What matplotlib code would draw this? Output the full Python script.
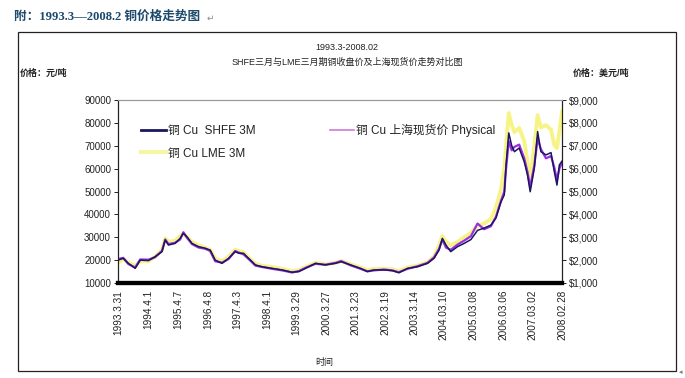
import matplotlib
matplotlib.use("Agg")
import matplotlib.pyplot as plt
from matplotlib.patches import Rectangle
from matplotlib.ticker import FuncFormatter, FixedLocator

plt.rcParams['font.family'] = ['Liberation Sans', 'Noto Sans CJK SC', 'DejaVu Sans']

# ---- data (decimal years) ----
dates = [1993.25, 1993.42, 1993.59, 1993.82, 1993.99,
         1994.27, 1994.49, 1994.72, 1994.83, 1994.94,
         1995.16, 1995.33, 1995.44, 1995.56, 1995.73, 1995.95,
         1996.17, 1996.34, 1996.51, 1996.74, 1996.96,
         1997.18, 1997.30, 1997.46, 1997.63, 1997.86,
         1998.08, 1998.42, 1998.76,
         1999.09, 1999.32, 1999.54, 1999.88,
         2000.21, 2000.55, 2000.74,
         2001.06, 2001.39, 2001.62, 2001.84,
         2002.18, 2002.46, 2002.68, 2002.97,
         2003.30, 2003.64, 2003.86,
         2004.03, 2004.14, 2004.26, 2004.42, 2004.65, 2004.87,
         2005.10, 2005.32, 2005.54, 2005.77, 2005.94,
         2006.11, 2006.22, 2006.28, 2006.37, 2006.47, 2006.56, 2006.72, 2006.89,
         2007.00, 2007.09, 2007.23, 2007.34, 2007.45, 2007.62, 2007.79, 2007.90, 2007.99,
         2008.07, 2008.16]

shfe_3m = [20000, 20800, 18600, 16400, 20000,
           19800, 21500, 23700, 28800, 26600,
           27300, 29500, 31700, 30200, 27300, 25900,
           25200, 24400, 20000, 18600, 20800,
           23700, 23000, 23000, 20800, 17900,
           17100, 16400, 15700,
           14700, 15000, 16400, 18600,
           17900, 18600, 19300,
           17900, 16400, 15000, 15700,
           15700, 15400, 14500, 16400,
           17100, 18600, 20800,
           24400, 29500, 26600, 23700, 25900, 27300,
           29000, 33000, 34000, 35300, 38400,
           45500, 48500, 61600, 75600, 70000, 67400, 69000, 63000,
           57200, 49900, 60300, 76200, 67400, 66000, 67000, 58700, 52800,
           61600, 63300]

physical = [20500, 21000, 18300, 16800, 20300,
            20200, 21300, 24000, 29000, 27000,
            27600, 29000, 32200, 29800, 27000, 25500,
            25000, 24000, 19500, 18900, 20500,
            24000, 23300, 22500, 20500, 17600,
            17000, 16200, 15500,
            14600, 15200, 16600, 18400,
            18000, 18800, 19600,
            17700, 16200, 15100, 15500,
            15900, 15500, 14700, 16200,
            17300, 18800, 21200,
            25000, 29000, 25500, 24500, 26800, 28500,
            30500, 36000, 33500, 34800, 39000,
            46000, 50000, 60000, 72000, 68000, 69500, 70500, 64500,
            58500, 52000, 61500, 73000, 68500, 64500, 65500, 60500, 55000,
            60000, 62500]

lme_3m_usd = [1880, 2050, 1900, 1750, 1950,
              1950, 2150, 2450, 2950, 2800,
              2850, 3050, 3150, 3000, 2800, 2650,
              2550, 2450, 2050, 1950, 2150,
              2450, 2400, 2350, 2100, 1850,
              1750, 1700, 1620,
              1520, 1560, 1700, 1880,
              1820, 1880, 1960,
              1820, 1680, 1560, 1620,
              1620, 1600, 1520, 1680,
              1760, 1900, 2150,
              2650, 3050, 2800, 2650, 2800, 3000,
              3200, 3500, 3600, 3800, 4300,
              5100, 6000, 7000, 8430, 7900, 7600, 7780, 7200,
              6300, 5600, 7000, 8340, 7800, 7900, 7700, 7030, 6900,
              7600, 8500]

tick_labels = ['1993.3.31', '1994.4.1', '1995.4.7', '1996.4.8', '1997.4.3', '1998.4.1',
               '1999.3.29', '2000.3.27', '2001.3.23', '2002.3.19', '2003.3.14',
               '2004.03.10', '2005.03.08', '2006.03.06', '2007.03.02', '2008.02.28']

series_names = ['铜 Cu  SHFE 3M', '铜 Cu 上海现货价 Physical', '铜 Cu LME 3M']


def label_to_year(s):
    y, m, d = [int(p) for p in s.split('.')]
    cum = [0, 31, 59, 90, 120, 151, 181, 212, 243, 273, 304, 334]
    return y + (cum[m - 1] + d - 1) / 365.25


tick_pos = [label_to_year(s) for s in tick_labels]

# ---- figure ----
W, H = 685, 378
fig = plt.figure(figsize=(W / 100, H / 100), dpi=100)
fig.patch.set_facecolor('white')


def fx(px):
    return px / W


def fy(py):
    return 1 - py / H


# page heading
fig.text(fx(14), fy(17), '附：1993.3—2008.2 铜价格走势图', color='#1d4a6b',
         fontsize=9.1, fontweight='bold', va='center', ha='left',
         family=['Liberation Serif', 'Noto Sans CJK SC', 'DejaVu Sans'])
fig.text(fx(207), fy(18), '↵', color='#888888', fontsize=6.5, va='center',
         ha='left', family=['DejaVu Sans'])

# chart frame
fig.patches.append(Rectangle((fx(18), fy(371)), (676 - 18) / W, (371 - 32) / H,
                             transform=fig.transFigure, fill=False,
                             edgecolor='#222222', lw=0.9))

fig.text(fx(347), fy(47), '1993.3-2008.02', fontsize=6.5, ha='center', va='center',
         color='#222222')
fig.text(fx(347), fy(62), 'SHFE三月与LME三月期铜收盘价及上海现货价走势对比图',
         fontsize=6.5, ha='center', va='center', color='#222222')
fig.text(fx(20), fy(73), '价格：元/吨', fontsize=6.5, ha='left', va='center',
         color='#222222', fontweight='bold')
fig.text(fx(573), fy(73), '价格：美元/吨', fontsize=6.5, ha='left', va='center',
         color='#222222', fontweight='bold')
fig.text(fx(324), fy(362), '时间', fontsize=6.5, ha='center', va='center',
         color='#222222')

# axes
L, R, T, B = 118, 562, 100, 283
ax = fig.add_axes([fx(L), fy(B), (R - L) / W, (B - T) / H])
ax2 = ax.twinx()
ax2.set_zorder(ax.get_zorder() - 1)
ax.patch.set_visible(False)
ax2.patch.set_facecolor('white')

l_lme, = ax2.plot(dates, lme_3m_usd, color='#f6f37a', lw=2.8, alpha=0.9,
                  solid_joinstyle='round')
l_phys, = ax.plot(dates, physical, color='#9a2ee0', lw=1.6, solid_joinstyle='round')
l_shfe, = ax.plot(dates, shfe_3m, color='#1a1660', lw=1.1, solid_joinstyle='round')

ax.set_xlim(tick_pos[0], tick_pos[-1])
ax.set_ylim(10000, 90000)
ax2.set_ylim(1000, 9000)

ax.set_yticks(range(10000, 90001, 10000))
ax.set_yticklabels([str(v) for v in range(10000, 90001, 10000)])
ax2.set_yticks(range(1000, 9001, 1000))
ax2.yaxis.set_major_formatter(FuncFormatter(lambda v, p: f'${v:,.0f}'))

ax.xaxis.set_major_locator(FixedLocator(tick_pos))
ax.set_xticklabels(tick_labels, rotation=90, fontsize=7.2, color='#222222')
ax.tick_params(axis='x', length=0, pad=5)
ax.tick_params(axis='y', direction='out', length=3, width=0.7, labelsize=7,
               colors='#222222', pad=2)
ax2.tick_params(axis='y', direction='out', length=3, width=0.7, labelsize=7,
                colors='#222222', pad=2)

for a in (ax, ax2):
    a.spines['bottom'].set_linewidth(3.0)
    a.spines['bottom'].set_color('black')
    a.spines['top'].set_color('#999999')
    a.spines['top'].set_linewidth(0.8)
    a.spines['left'].set_color('#222222')
    a.spines['left'].set_linewidth(0.8)
    a.spines['right'].set_color('#222222')
    a.spines['right'].set_linewidth(0.8)

# legend
h_shfe = plt.Line2D([], [], color='#1a1660', lw=2.0)
h_phys = plt.Line2D([], [], color='#d27ad6', lw=1.2)
h_lme = plt.Line2D([], [], color='#f4f6a8', lw=3.0)
leg = ax.legend([h_shfe, h_lme, h_phys],
                [series_names[0], series_names[2], series_names[1]],
                ncol=2, loc='upper left', bbox_to_anchor=(0.052, 0.87),
                frameon=False, fontsize=8.5, handlelength=2.1,
                handletextpad=0.15, columnspacing=6.3, labelspacing=0.9,
                borderpad=0, borderaxespad=0)
for t in leg.get_texts():
    t.set_color('#222222')

fig.text(fx(681), fy(372), '◂', fontsize=5, color='#777777', ha='center', va='center',
         family=['DejaVu Sans'])

fig.savefig('out.png', dpi=100)
